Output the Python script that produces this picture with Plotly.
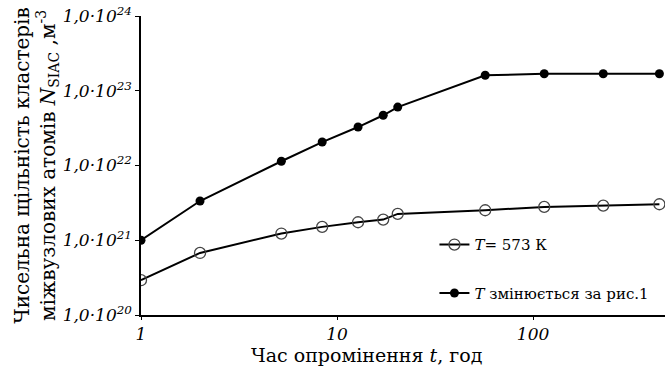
import plotly.graph_objects as go

t_open = [1, 2, 5.2, 8.4, 12.8, 17.2, 20.4, 57, 114, 228, 441]
n_open = [2.92e20, 6.76e20, 1.23e21, 1.51e21, 1.74e21, 1.89e21, 2.25e21, 2.52e21, 2.79e21, 2.91e21, 3.03e21]
t_fill = [1, 2, 5.2, 8.4, 12.8, 17.2, 20.4, 57, 114, 228, 441]
n_fill = [1.0e21, 3.35e21, 1.14e22, 2.06e22, 3.27e22, 4.7e22, 6.05e22, 1.61e23, 1.69e23, 1.69e23, 1.69e23]

y_tickvals = [1e20, 1e21, 1e22, 1e23, 1e24]
y_ticktext = ["<i>1,0·10<sup>20</sup></i>", "<i>1,0·10<sup>21</sup></i>", "<i>1,0·10<sup>22</sup></i>",
              "<i>1,0·10<sup>23</sup></i>", "<i>1,0·10<sup>24</sup></i>"]
x_tickvals = [1, 10, 100]
x_ticktext = ["<i>1</i>", "<i>10</i>", "<i>100</i>"]

name_open = "<i>T</i>= 573 К"
name_fill = "<i>T</i> змінюється за рис.1"

FONT = "DejaVu Serif"

fig = go.Figure()
fig.add_trace(go.Scatter(x=t_open, y=n_open, mode="lines+markers", name=name_open,
                         legendgroup="a",
                         line=dict(color="black", width=2),
                         marker=dict(symbol="circle-open", size=11, color="#444", line=dict(width=1.3))))
fig.add_trace(go.Scatter(x=t_fill, y=n_fill, mode="lines+markers", name=name_fill,
                         legendgroup="b",
                         line=dict(color="black", width=2),
                         marker=dict(symbol="circle", size=9, color="black")))

fig.update_layout(
    width=665, height=370,
    margin=dict(l=141, r=0, t=16, b=55),
    paper_bgcolor="white", plot_bgcolor="white",
    font=dict(family=FONT, color="black", size=15),
    showlegend=True,
    legend=dict(x=0.56, y=0.29, xanchor="left", yanchor="top",
                bgcolor="rgba(0,0,0,0)", font=dict(size=15, family=FONT),
                itemwidth=30, tracegroupgap=26, traceorder="grouped"),
    xaxis=dict(type="log", range=[0, 2.673], showline=True, linecolor="black", linewidth=1.5,
               tickvals=x_tickvals, ticktext=x_ticktext, ticks="outside", ticklen=3,
               tickcolor="black", showgrid=False, zeroline=False,
               tickfont=dict(size=17, family=FONT)),
    yaxis=dict(type="log", range=[20, 24], showline=True, linecolor="black", linewidth=1.5,
               tickvals=y_tickvals, ticktext=y_ticktext, ticks="outside", ticklen=4,
               tickcolor="black", showgrid=False, zeroline=False,
               tickfont=dict(size=17, family=FONT),
               title=dict(text="Чисельна щільність кластерів<br>міжвузлових атомів <i>N</i><sub>SIAC</sub> ,м<sup>-3</sup>",
                          font=dict(size=20, family=FONT), standoff=2)),
)
fig.add_annotation(text="Час опромінення <i>t</i>, год", xref="paper", yref="paper",
                   x=0.431, y=-0.135, xanchor="center", yanchor="middle", showarrow=False,
                   font=dict(size=19, family=FONT))
fig.write_html("out.html")
